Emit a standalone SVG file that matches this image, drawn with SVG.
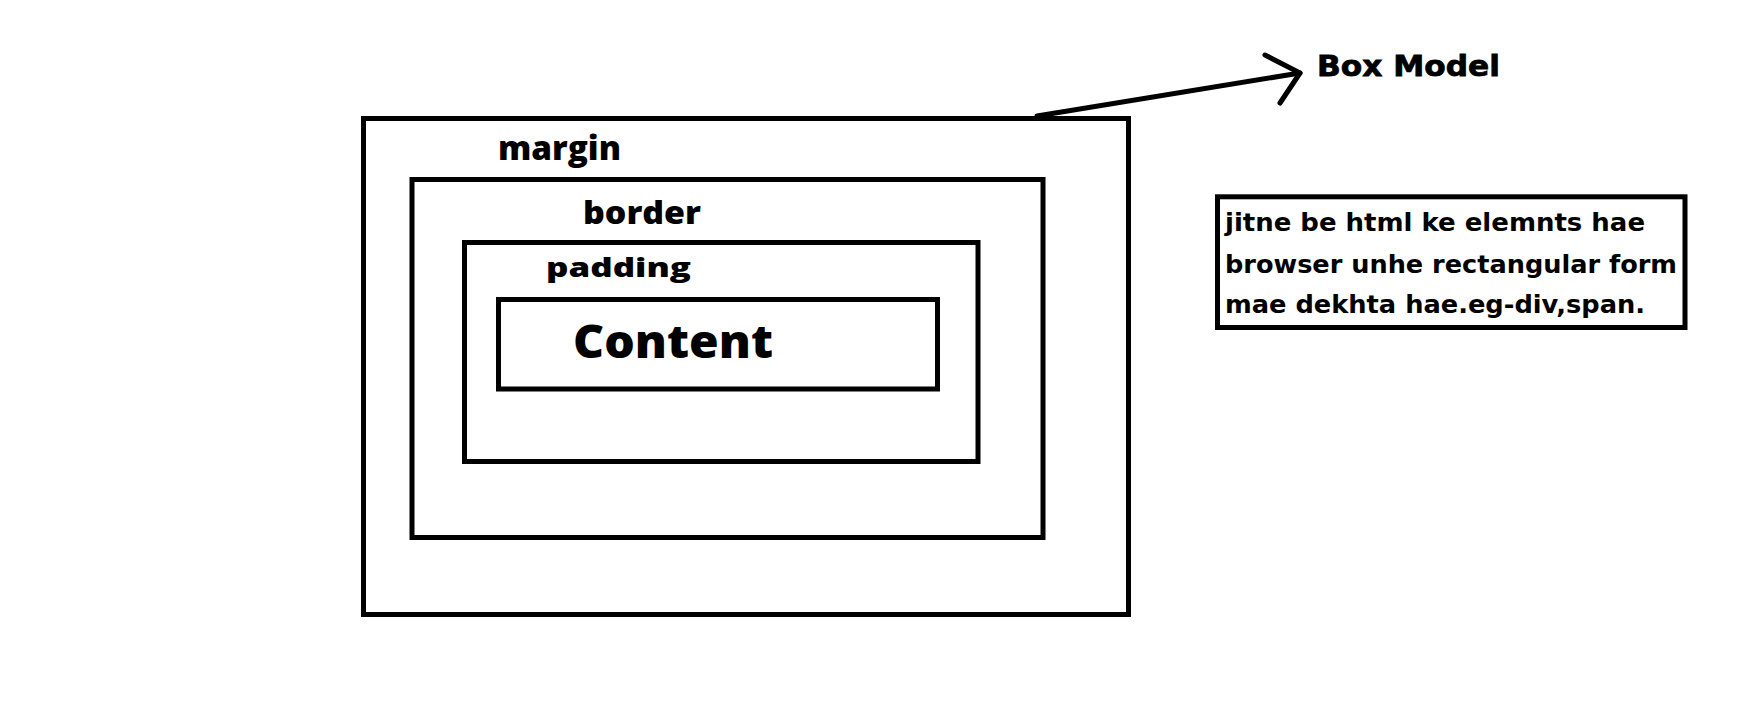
<svg xmlns="http://www.w3.org/2000/svg" width="1755" height="719" viewBox="0 0 1755 719">
<style>
  .box { fill: none; stroke: #000; stroke-width: 5; }
  .lbl { font-family: "Open Sans", "DejaVu Sans", sans-serif; font-weight: 800; fill: #000; }
  .title { font-family: "DejaVu Sans", "Liberation Sans", sans-serif; font-weight: bold; fill: #000; stroke: #000; stroke-width: 0.8; }
  .note { font-family: "DejaVu Sans", "Liberation Sans", sans-serif; font-weight: bold; fill: #000; font-size: 25px; }
  .conn { fill: none; stroke: #000; stroke-width: 5; stroke-linecap: round; stroke-linejoin: round; }
</style>
<rect width="1755" height="719" fill="#fff"/>
<g id="margin">
  <rect class="box" x="363.5" y="118.5" width="765" height="496"/>
  <text class="lbl" x="498" y="160" font-size="34" textLength="123" lengthAdjust="spacingAndGlyphs">margin</text>
</g>
<g id="border">
  <rect class="box" x="412" y="179.5" width="631" height="358"/>
  <text class="lbl" x="583" y="224" font-size="31" textLength="118" lengthAdjust="spacingAndGlyphs">border</text>
</g>
<g id="padding">
  <rect class="box" x="464.5" y="242.5" width="513.5" height="219"/>
  <text class="lbl" x="546" y="277" font-size="27" textLength="145" lengthAdjust="spacingAndGlyphs">padding</text>
</g>
<g id="content">
  <rect class="box" x="498.5" y="299.5" width="439" height="89.5"/>
  <text class="lbl" x="573" y="358" font-size="46" textLength="200" lengthAdjust="spacingAndGlyphs">Content</text>
</g>
<g id="box-model-title">
  <text class="title" x="1317" y="76" font-size="29" textLength="183" lengthAdjust="spacingAndGlyphs">Box Model</text>
</g>
<g id="note">
  <rect class="box" x="1217.5" y="196.8" width="467.5" height="130.7"/>
  <text class="note" x="1225" y="231" textLength="420" lengthAdjust="spacingAndGlyphs">jitne be html ke elemnts hae</text>
  <text class="note" x="1225" y="273" textLength="452" lengthAdjust="spacingAndGlyphs">browser unhe rectangular form</text>
  <text class="note" x="1225" y="313" textLength="420" lengthAdjust="spacingAndGlyphs">mae dekhta hae.eg-div,span.</text>
</g>
<g id="connectors">
  <line class="conn" x1="1037" y1="116" x2="1300" y2="73"/>
  <polyline class="conn" points="1265,55 1300,73 1280,103"/>
</g>
</svg>
